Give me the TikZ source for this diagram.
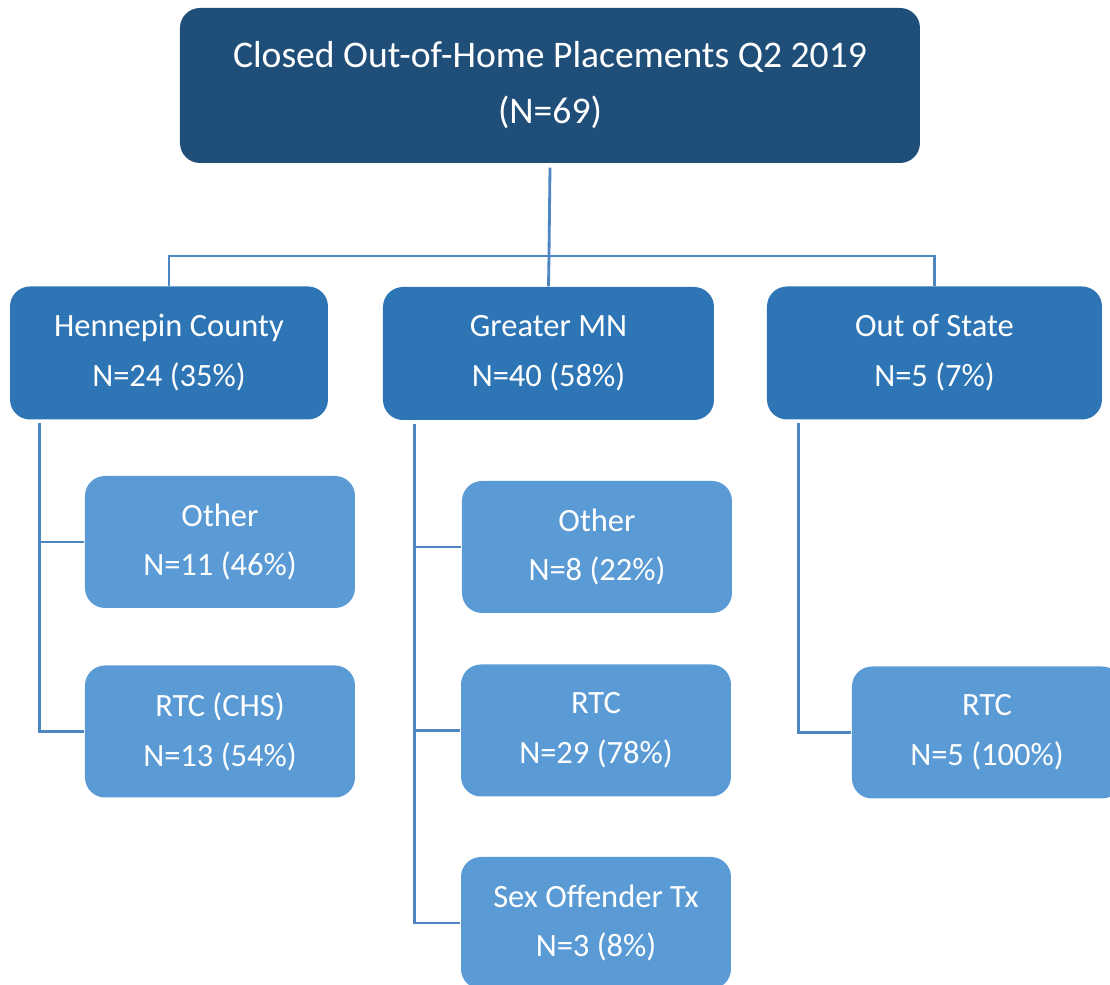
\documentclass[tikz,border=0pt]{standalone}
\usepackage{fontspec}
\setmainfont{Carlito}
\usetikzlibrary{calc}

\definecolor{topblue}{HTML}{1F4E79}
\definecolor{midblue}{HTML}{2E75B6}
\definecolor{lowblue}{HTML}{5B9BD5}
\definecolor{linkblue}{HTML}{4E86C2}

\begin{document}
\begin{tikzpicture}[
        box/.style={rounded corners=0.2cm,text=white,align=center,inner sep=0pt},
        top node/.style={box,fill=topblue,minimum width=7.4cm,minimum height=1.55cm,
            font=\fontsize{10.7}{15.9}\selectfont},
        region node/.style={box,fill=midblue,minimum height=1.33cm,
            font=\fontsize{9.25}{14.2}\selectfont},
        kind node/.style={box,fill=lowblue,minimum width=2.7cm,minimum height=1.32cm,
            font=\fontsize{9.25}{14.2}\selectfont},
        link/.style={draw=linkblue,line width=0.8pt},
        ]

    \useasboundingbox (0,0) rectangle (11.1,-9.85);
    \clip (0,0) rectangle (11.1,-9.85);

    % top level
    \node[top node] (top) at (5.50,-0.855) {Closed Out-of-Home Placements Q2 2019\\(N=69)};

    % regions
    \node[region node,minimum width=3.18cm] (hen) at (1.69,-3.53) {Hennepin County\\N=24 (35\%)};
    \node[region node,minimum width=3.31cm] (gmn) at (5.485,-3.535) {Greater MN\\N=40 (58\%)};
    \node[region node,minimum width=3.35cm] (ost) at (9.345,-3.53) {Out of State\\N=5 (7\%)};

    % placement kinds
    \node[kind node] (henoth) at (2.20,-5.42) {Other\\N=11 (46\%)};
    \node[kind node] (henrtc) at (2.20,-7.315) {RTC (CHS)\\N=13 (54\%)};
    \node[kind node] (gmnoth) at (5.97,-5.47) {Other\\N=8 (22\%)};
    \node[kind node] (gmnrtc) at (5.96,-7.305) {RTC\\N=29 (78\%)};
    \node[kind node] (gmnsex) at (5.96,-9.23) {Sex Offender Tx\\N=3 (8\%)};
    \node[kind node] (ostrtc) at (9.87,-7.325) {RTC\\N=5 (100\%)};

    % connectors
    \coordinate (bus) at (5.49,-2.56);
    \coordinate (henspine) at ($(hen.south west)+(0.30,-0.03)$);
    \coordinate (gmnspine) at ($(gmn.south west)+(0.32,-0.03)$);
    \coordinate (ostspine) at ($(ost.south west)+(0.32,-0.03)$);

    \draw[link] ($(top.south)+(0,-0.04)$) -- (bus);
    \draw[link] (hen.north) |- (bus) -| (ost.north);
    \draw[link] (bus) -- (gmn.north);

    \draw[link] (henspine) |- (henoth.west);
    \draw[link] (henspine) |- (henrtc.west);
    \draw[link] (gmnspine) |- (gmnoth.west);
    \draw[link] (gmnspine) |- (gmnrtc.west);
    \draw[link] (gmnspine) |- (gmnsex.west);
    \draw[link] (ostspine) |- (ostrtc.west);
\end{tikzpicture}
\end{document}
